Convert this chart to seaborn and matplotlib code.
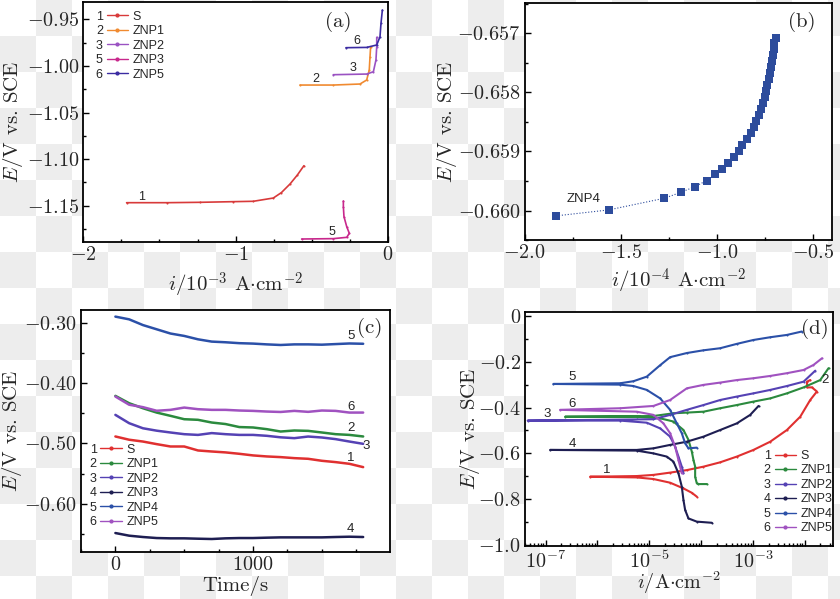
import numpy as np
import pandas as pd
import matplotlib
matplotlib.use("Agg")
import matplotlib.pyplot as plt
from matplotlib.lines import Line2D
from matplotlib.ticker import MultipleLocator, LogLocator, FuncFormatter, NullFormatter
import seaborn as sns

# ---------------- (a) anodic polarisation, linear current ----------------
a_names = ['S', 'ZNP1', 'ZNP2', 'ZNP3', 'ZNP5']
a_nums = ['1', '2', '3', '5', '6']
a_colors = ['#d83a3a', '#f08a30', '#9a52c2', '#c8288c', '#3b2ca2']
a_i_S = [-1.716, -1.453, -1.234, -1.016, -0.884, -0.753, -0.70, -0.643, -0.595, -0.552]
a_E_S = [-1.1468, -1.1468, -1.1464, -1.1457, -1.1453, -1.1418, -1.136, -1.1267, -1.1171, -1.1071]
a_i_ZNP1 = [-0.578, -0.359, -0.184, -0.140, -0.123, -0.118, -0.114]
a_E_ZNP1 = [-1.0205, -1.0205, -1.0194, -1.0151, -1.0044, -0.9901, -0.9793]
a_i_ZNP2 = [-0.359, -0.140, -0.096, -0.079, -0.074, -0.074]
a_E_ZNP2 = [-1.0094, -1.0087, -1.0062, -0.9936, -0.9793, -0.9693]
a_i_ZNP3 = [-0.567, -0.359, -0.271, -0.254, -0.271, -0.289, -0.293, -0.293]
a_E_ZNP3 = [-1.1858, -1.1854, -1.184, -1.1797, -1.1725, -1.1618, -1.1511, -1.145]
a_i_ZNP5 = [-0.276, -0.140, -0.074, -0.0525, -0.046, -0.037]
a_E_ZNP5 = [-0.9804, -0.9801, -0.9775, -0.9686, -0.9543, -0.940]

# ---------------- (b) ZNP4, linear current ----------------
b_i = [-1.837, -1.5625, -1.273, -1.186, -1.113, -1.054, -1.0125, -0.971, -0.940, -0.911,
       -0.8875, -0.867, -0.844, -0.825, -0.809, -0.795, -0.781, -0.771, -0.760, -0.752,
       -0.743, -0.738, -0.731, -0.726, -0.721, -0.716, -0.710, -0.705, -0.702, -0.695]
b_E = [-0.660091, -0.659990, -0.659792, -0.659690, -0.659594, -0.659493, -0.659386, -0.659290,
       -0.659188, -0.659087, -0.658985, -0.658884, -0.658782, -0.658681, -0.658579, -0.658478,
       -0.658376, -0.658275, -0.658173, -0.658072, -0.657970, -0.657869, -0.657767, -0.657666,
       -0.657564, -0.657462, -0.657367, -0.657271, -0.657169, -0.657085]

# ---------------- (c) open circuit potential vs time ----------------
c_time = [0, 100, 200, 300, 400, 500, 600, 700, 800, 900, 1000,
          1100, 1200, 1300, 1400, 1500, 1600, 1700, 1800]
c_S = [-0.4886, -0.494, -0.497, -0.5013, -0.5052, -0.5052, -0.5118, -0.5135, -0.515, -0.5173,
       -0.520, -0.5217, -0.5228, -0.5245, -0.5256, -0.5289, -0.5311, -0.5339, -0.5394]
c_ZNP1 = [-0.4213, -0.4335, -0.4418, -0.449, -0.4544, -0.460, -0.461, -0.4655, -0.468, -0.473,
          -0.4737, -0.4765, -0.4804, -0.4787, -0.4793, -0.482, -0.4848, -0.486, -0.4886]
c_ZNP2 = [-0.4528, -0.4666, -0.475, -0.479, -0.482, -0.4848, -0.486, -0.483, -0.4848, -0.486,
          -0.486, -0.4875, -0.490, -0.4914, -0.4887, -0.4903, -0.493, -0.497, -0.5008]
c_ZNP3 = [-0.6486, -0.653, -0.6552, -0.6569, -0.6574, -0.6574, -0.658, -0.6585, -0.6574, -0.6569,
          -0.6569, -0.6563, -0.6558, -0.6558, -0.6558, -0.6558, -0.6552, -0.6547, -0.6552]
c_ZNP4 = [-0.290, -0.2945, -0.304, -0.311, -0.318, -0.322, -0.3276, -0.3314, -0.3325, -0.334,
          -0.3347, -0.336, -0.337, -0.336, -0.336, -0.3365, -0.3355, -0.3345, -0.335]
c_ZNP5 = [-0.4224, -0.436, -0.440, -0.446, -0.4445, -0.4407, -0.4434, -0.4445, -0.4445, -0.4456,
          -0.4462, -0.4473, -0.448, -0.4462, -0.4478, -0.4456, -0.4462, -0.449, -0.449]

# ---------------- (d) Tafel curves, log current ----------------
d_names = ['S', 'ZNP1', 'ZNP2', 'ZNP3', 'ZNP4', 'ZNP5']
d_colors = ['#e03030', '#2b8a3e', '#5542b4', '#1e1e52', '#2b50a8', '#a052c0']
d_i_S = [8.25e-5, 6.60e-5, 4.56e-5, 2.52e-5, 1.20e-5, 5.73e-6, 7.20e-7, 5.73e-6, 1.20e-5, 2.52e-5,
         5.29e-5, 1.11e-4, 2.33e-4, 4.88e-4, 1.02e-3, 2.15e-3, 4.51e-3, 8.15e-3, 1.27e-2, 1.71e-2,
         1.37e-2, 1.10e-2, 1.10e-2, 1.27e-2]
d_E_S = [-0.789, -0.772, -0.753, -0.728, -0.712, -0.705, -0.702, -0.699, -0.694, -0.684,
         -0.673, -0.658, -0.639, -0.614, -0.585, -0.549, -0.498, -0.440, -0.367, -0.330,
         -0.312, -0.312, -0.287, -0.280]
d_i_ZNP1 = [1.29e-4, 8.88e-5, 8.25e-5, 7.66e-5, 7.66e-5, 7.11e-5, 6.60e-5, 5.69e-5, 4.56e-5, 2.92e-5,
            1.62e-5, 5.73e-6, 2.37e-7, 1.20e-5, 2.92e-5, 5.29e-5, 1.11e-4, 2.33e-4, 4.88e-4,
            1.02e-3, 2.15e-3, 4.51e-3, 9.45e-3, 1.98e-2, 2.87e-2]
d_E_ZNP1 = [-0.734, -0.734, -0.731, -0.702, -0.658, -0.629, -0.592, -0.541, -0.498, -0.461,
            -0.447, -0.440, -0.440, -0.437, -0.425, -0.422, -0.418, -0.403, -0.389,
            -0.374, -0.360, -0.338, -0.312, -0.280, -0.228]
d_i_ZNP2 = [4.56e-5, 4.23e-5, 3.65e-5, 3.15e-5, 2.52e-5, 1.62e-5, 8.94e-6, 2.73e-6, 4.5e-8,
            1.20e-5, 2.52e-5, 5.29e-5, 1.11e-4, 2.33e-4, 4.88e-4, 1.02e-3, 2.15e-3, 4.51e-3,
            9.45e-3, 1.59e-2]
d_E_ZNP2 = [-0.687, -0.658, -0.614, -0.571, -0.527, -0.491, -0.466, -0.457, -0.457,
            -0.451, -0.432, -0.410, -0.389, -0.367, -0.352, -0.338, -0.323, -0.306,
            -0.287, -0.239]
d_i_ZNP3 = [1.61e-4, 8.25e-5, 5.69e-5, 4.91e-5, 4.56e-5, 4.23e-5, 3.65e-5, 2.92e-5, 2.17e-5, 1.20e-5,
            5.73e-6, 1.22e-7, 5.73e-6, 1.20e-5, 2.52e-5, 5.29e-5, 1.11e-4, 2.33e-4, 4.88e-4,
            8.83e-4, 1.28e-3]
d_E_ZNP3 = [-0.903, -0.898, -0.884, -0.847, -0.804, -0.745, -0.687, -0.636, -0.614, -0.600,
            -0.588, -0.585, -0.585, -0.578, -0.563, -0.549, -0.527, -0.498, -0.469,
            -0.432, -0.393]
d_i_ZNP4 = [8.25e-5, 5.69e-5, 4.91e-5, 4.23e-5, 3.39e-5, 2.52e-5, 1.62e-5, 8.94e-6, 4.94e-6, 2.73e-6,
            1.41e-7, 2.73e-6, 4.94e-6, 8.94e-6, 1.62e-5, 2.52e-5, 5.29e-5, 1.11e-4, 2.33e-4,
            4.88e-4, 1.02e-3, 2.15e-3, 4.51e-3, 8.78e-3]
d_E_ZNP4 = [-0.575, -0.578, -0.556, -0.512, -0.469, -0.410, -0.360, -0.323, -0.306, -0.300,
            -0.297, -0.294, -0.285, -0.265, -0.215, -0.180, -0.162, -0.150, -0.141,
            -0.122, -0.105, -0.093, -0.083, -0.068]
d_i_ZNP5 = [4.23e-5, 3.65e-5, 3.15e-5, 2.52e-5, 1.87e-5, 1.20e-5, 5.73e-6, 1.90e-7, 2.73e-6, 1.20e-5,
            2.52e-5, 5.29e-5, 1.11e-4, 2.33e-4, 4.88e-4, 1.02e-3, 2.15e-3, 4.51e-3, 9.45e-3,
            1.47e-2, 2.14e-2]
d_E_ZNP5 = [-0.687, -0.629, -0.571, -0.512, -0.469, -0.432, -0.418, -0.410, -0.403, -0.393,
            -0.367, -0.316, -0.301, -0.291, -0.280, -0.272, -0.262, -0.250, -0.236,
            -0.214, -0.185]

# ---------------- style ----------------
sns.set_theme(style="ticks")
plt.rcParams['font.family'] = 'serif'
plt.rcParams['font.serif'] = ['cmr10']
plt.rcParams['mathtext.fontset'] = 'cm'
plt.rcParams['axes.formatter.use_mathtext'] = True
plt.rcParams['axes.linewidth'] = 1.3
plt.rcParams['axes.edgecolor'] = 'black'

SANS = ['Liberation Sans', 'DejaVu Sans']
TICK_FS = 14.5
LABEL_FS = 15
fig = plt.figure(figsize=(8.4, 5.99), dpi=100)

# light checkerboard background as in the reference
yy, xx = np.indices((599, 840))
chk = ((xx // 36 + yy // 36) % 2).astype(float)
bg = np.ones((599, 840, 3))
bg[chk == 1] = 0.93
fig.figimage(bg, xo=0, yo=0, zorder=-5)

ax_a = fig.add_axes([0.0992, 0.596, 0.3627, 0.4012])
ax_b = fig.add_axes([0.6246, 0.5993, 0.3662, 0.3952])
ax_c = fig.add_axes([0.0964, 0.0785, 0.3679, 0.404])
ax_d = fig.add_axes([0.625, 0.089, 0.3667, 0.3897])


def style_axis(ax):
    ax.set_facecolor('white')
    ax.tick_params(which='both', direction='in', top=False, right=False,
                   labelsize=TICK_FS, color='black', width=1.0)
    ax.tick_params(which='major', length=4, pad=3)
    ax.tick_params(which='minor', length=2.5)


def set_labels(ax, xlabel, xpos, ypos, xfs=LABEL_FS):
    ax.set_xlabel(xlabel, fontsize=xfs, va='top')
    ax.set_ylabel(r'$E$/V vs. SCE', fontsize=LABEL_FS)
    ax.xaxis.set_label_coords(0.5, xpos)
    ax.yaxis.set_label_coords(ypos, 0.5)


def num_legend(ax, handles, nums, names, anchor, loc='upper left'):
    blank = [Line2D([], [], linestyle='none') for _ in nums]
    leg = ax.legend(blank + handles, nums + names, ncol=2, loc=loc, bbox_to_anchor=anchor,
                    frameon=False, prop={'family': SANS, 'size': 9},
                    handlelength=1.7, handletextpad=0.4, columnspacing=0.3,
                    labelspacing=0.2, borderpad=0.0, borderaxespad=0.0)
    return leg


def sans_text(ax, x, y, s, size=9, **kw):
    ax.text(x, y, s, ha='center', va='center', fontsize=size, family=SANS, **kw)


# ---------------- panel (a) ----------------
style_axis(ax_a)
a_curves = [(a_i_S, a_E_S), (a_i_ZNP1, a_E_ZNP1), (a_i_ZNP2, a_E_ZNP2),
            (a_i_ZNP3, a_E_ZNP3), (a_i_ZNP5, a_E_ZNP5)]
for (xi, ye), col in zip(a_curves, a_colors):
    sns.lineplot(x=xi, y=ye, sort=False, estimator=None, color=col, lw=1.2,
                 marker='.', markersize=3, markeredgewidth=0, ax=ax_a)
ax_a.set_xlim(-2.0, 0.0)
ax_a.set_ylim(-1.189, -0.931)
ax_a.xaxis.set_major_locator(MultipleLocator(1))
ax_a.xaxis.set_minor_locator(MultipleLocator(0.25))
ax_a.yaxis.set_major_locator(MultipleLocator(0.05))
ax_a.yaxis.set_minor_locator(MultipleLocator(0.025))
ax_a.yaxis.set_major_formatter(FuncFormatter(lambda v, p: r'$\mathdefault{%.2f}$' % v))
ax_a.xaxis.set_major_formatter(FuncFormatter(lambda v, p: r'$\mathdefault{%d}$' % round(v)))
set_labels(ax_a, r'$i/10^{-3}$ A$\cdot$cm$^{-2}$', -0.118, -0.193)
a_handles = [Line2D([], [], color=c, lw=1, marker='.', ms=4) for c in a_colors]
num_legend(ax_a, a_handles, a_nums, a_names, (-0.045, 0.962))
sans_text(ax_a, -1.617, -1.141, '1')
sans_text(ax_a, -0.473, -1.014, '2')
sans_text(ax_a, -0.232, -1.0026, '3')
sans_text(ax_a, -0.2016, -0.973, '6')
sans_text(ax_a, -0.370, -1.1785, '5')
ax_a.text(-0.326, -0.9526, '(a)', ha='center', va='center', fontsize=15)

# ---------------- panel (b) ----------------
style_axis(ax_b)
sns.lineplot(x=b_i, y=b_E, sort=False, estimator=None, color='#2d4c9c', lw=0.8,
             linestyle=':', marker='s', markersize=6, markeredgewidth=0, ax=ax_b)
ax_b.set_xlim(-2.0, -0.4)
ax_b.set_ylim(-0.6605, -0.65649)
ax_b.xaxis.set_major_locator(MultipleLocator(0.5))
ax_b.xaxis.set_minor_locator(MultipleLocator(0.25))
ax_b.yaxis.set_major_locator(MultipleLocator(0.001))
ax_b.yaxis.set_minor_locator(MultipleLocator(0.0005))
ax_b.yaxis.set_major_formatter(FuncFormatter(lambda v, p: r'$\mathdefault{%.3f}$' % v))
ax_b.xaxis.set_major_formatter(FuncFormatter(lambda v, p: r'$\mathdefault{%.1f}$' % v))
set_labels(ax_b, r'$i/10^{-4}$ A$\cdot$cm$^{-2}$', -0.112, -0.214)
sans_text(ax_b, -1.696, -0.659804, 'ZNP4', size=9.5)
ax_b.text(-0.557, -0.656804, '(b)', ha='center', va='center', fontsize=15)

# ---------------- panel (c) ----------------
style_axis(ax_c)
c_names = ['S', 'ZNP1', 'ZNP2', 'ZNP3', 'ZNP4', 'ZNP5']
c_series = [c_S, c_ZNP1, c_ZNP2, c_ZNP3, c_ZNP4, c_ZNP5]
df_c = pd.DataFrame({
    'time': c_time * len(c_names),
    'E': sum(c_series, []),
    'sample': [n for n in c_names for _ in c_time],
})
sns.lineplot(data=df_c, x='time', y='E', hue='sample', estimator=None,
             palette=dict(zip(c_names, d_colors)), lw=1.8, legend=False, ax=ax_c)
ax_c.set_xlim(-250, 1995)
ax_c.set_ylim(-0.680, -0.279)
ax_c.xaxis.set_major_locator(MultipleLocator(1000))
ax_c.xaxis.set_minor_locator(MultipleLocator(250))
ax_c.yaxis.set_major_locator(MultipleLocator(0.1))
ax_c.yaxis.set_minor_locator(MultipleLocator(0.05))
ax_c.yaxis.set_major_formatter(FuncFormatter(lambda v, p: r'$\mathdefault{%.2f}$' % v))
ax_c.xaxis.set_major_formatter(FuncFormatter(lambda v, p: r'$\mathdefault{%d}$' % round(v)))
set_labels(ax_c, 'Time/s', -0.10, -0.185)
c_handles = [Line2D([], [], color=c, lw=1, marker='.', ms=4) for c in d_colors]
num_legend(ax_c, c_handles, ['1', '2', '3', '4', '5', '6'], c_names, (-0.057, 0.447))
sans_text(ax_c, 1709, -0.322, '5', size=9.5)
sans_text(ax_c, 1709, -0.439, '6', size=9.5)
sans_text(ax_c, 1709, -0.4743, '2', size=9.5)
sans_text(ax_c, 1823, -0.5036, '3', size=9.5)
sans_text(ax_c, 1709, -0.524, '1', size=9.5)
sans_text(ax_c, 1709, -0.6416, '4', size=9.5)
ax_c.text(1847, -0.3088, '(c)', ha='center', va='center', fontsize=15)

# ---------------- panel (d) ----------------
style_axis(ax_d)
d_curves = [(d_i_S, d_E_S), (d_i_ZNP1, d_E_ZNP1), (d_i_ZNP2, d_E_ZNP2),
            (d_i_ZNP3, d_E_ZNP3), (d_i_ZNP4, d_E_ZNP4), (d_i_ZNP5, d_E_ZNP5)]
for (xi, ye), col in zip(d_curves, d_colors):
    sns.lineplot(x=xi, y=ye, sort=False, estimator=None, color=col, lw=1.5,
                 marker='.', markersize=3, markeredgewidth=0, ax=ax_d)
ax_d.set_xscale('log')
ax_d.set_xlim(4.0e-8, 3.5e-2)
ax_d.set_ylim(-1.003, 0.016)
ax_d.xaxis.set_major_locator(LogLocator(base=10, numticks=20))
ax_d.xaxis.set_minor_locator(LogLocator(base=10, subs=np.arange(2, 10), numticks=20))
ax_d.xaxis.set_minor_formatter(NullFormatter())
ax_d.xaxis.set_major_formatter(FuncFormatter(
    lambda v, p: r'$\mathdefault{10^{%d}}$' % round(np.log10(v)) if round(np.log10(v)) % 2 else ''))
ax_d.yaxis.set_major_locator(MultipleLocator(0.2))
ax_d.yaxis.set_minor_locator(MultipleLocator(0.1))
ax_d.yaxis.set_major_formatter(FuncFormatter(
    lambda v, p: r'$\mathdefault{0}$' if abs(v) < 1e-9 else r'$\mathdefault{%.1f}$' % v))
set_labels(ax_d, r'$i$/A$\cdot$cm$^{-2}$', -0.10, -0.139, xfs=14.5)
d_handles = [Line2D([], [], color=c, lw=1, marker='.', ms=4) for c in d_colors]
num_legend(ax_d, d_handles, ['1', '2', '3', '4', '5', '6'], d_names, (0.69, 0.41))
sans_text(ax_d, 3.3e-7, -0.268, '5', size=9.5)
sans_text(ax_d, 3.3e-7, -0.384, '6', size=9.5)
sans_text(ax_d, 1.05e-7, -0.4293, '3', size=9.5)
sans_text(ax_d, 3.3e-7, -0.560, '4', size=9.5)
sans_text(ax_d, 1.51e-6, -0.6725, '1', size=9.5)
sans_text(ax_d, 2.48e-2, -0.279, '2', size=9.5)
ax_d.text(1.58e-2, -0.058, '(d)', ha='center', va='center', fontsize=15)

fig.savefig('out.png', dpi=100)
